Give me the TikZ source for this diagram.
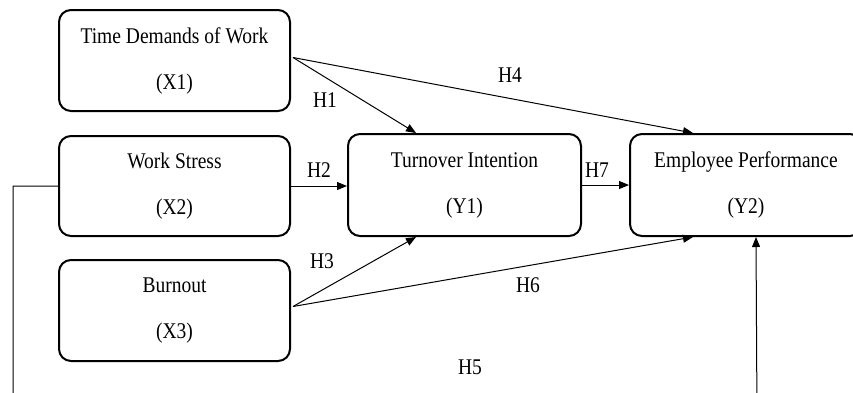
\documentclass[tikz,border=0pt]{standalone}
\usepackage{fontspec}
\usepackage{graphicx}
\setmainfont{Liberation Serif}
\usetikzlibrary{arrows.meta,calc}
% text set slightly taller than wide
\newcommand{\tallt}[1]{\scalebox{1}[1.15]{#1}}
\tikzset{
  varbox/.style={draw, line width=2pt, rounded corners=12pt, align=center,
    font=\fontsize{19.5}{46}\selectfont, inner sep=0pt},
  link/.style={line width=1pt, -{Triangle[length=10pt,width=8pt]}},
  hyp/.style={font=\fontsize{19.5}{23}\selectfont, inner sep=0pt}
}
\begin{document}
\begin{tikzpicture}[x=1pt,y=-1pt]
\useasboundingbox (0,0) rectangle (853,392);
\clip (0,0) rectangle (853,392);
\fill[white] (0,0) rectangle (853,392);

% constructs
\node[varbox, minimum width=231pt, minimum height=101pt] (X1) at (174.5,60.5) {\tallt{Time Demands of Work}\\\tallt{(X1)}};
\node[varbox, minimum width=231pt, minimum height=100pt] (X2) at (174.5,186) {\tallt{Work Stress}\\\tallt{(X2)}};
\node[varbox, minimum width=231pt, minimum height=101pt] (X3) at (174.5,310.5) {\tallt{Burnout}\\\tallt{(X3)}};
\node[varbox, minimum width=233pt, minimum height=102pt] (Y1) at (464.5,185) {\tallt{Turnover Intention}\\\tallt{(Y1)}};
\node[varbox, minimum width=232pt, minimum height=102pt] (Y2) at (746,185) {\tallt{Employee Performance}\\\tallt{(Y2)}};

% connector end points
\coordinate (x1out) at ($(X1.east)+(2,-3)$);
\coordinate (x3out) at ($(X3.east)+(2,-4)$);
\coordinate (y1top) at ($(Y1.north west)+(69,0)$);
\coordinate (y1bot) at ($(Y1.south west)+(69,0)$);
\coordinate (y2top) at ($(Y2.north west)+(64,0)$);
\coordinate (y2bot) at ($(Y2.south west)+(64,0)$);
\coordinate (y2h5) at ($(Y2.south west)+(127,0)$);
\coordinate (h5l) at (13,420);
\coordinate (h5r) at (757,420);

% hypotheses
\draw[link] (x1out) -- (y1top);
\draw[link] (x1out) -- (y2top);
\draw[link] (X2.east) -- (X2.east -| Y1.west);
\draw[link] (Y1.east) -- (Y1.east -| Y2.west);
\draw[link] (x3out) -- (y1bot);
\draw[link] (x3out) -- (y2bot);
\draw[link] (X2.west) -| (h5l) -- (h5r) -- (y2h5);

% hypothesis labels
\node[hyp] (H1) at (325,100) {\tallt{H1}};
\node[hyp] (H4) at (510,75) {\tallt{H4}};
\node[hyp] (H2) at (319,170) {\tallt{H2}};
\node[hyp] (H7) at (597,170) {\tallt{H7}};
\node[hyp] (H3) at (322,261) {\tallt{H3}};
\node[hyp] (H6) at (528,285) {\tallt{H6}};
\node[hyp] (H5) at (470,367) {\tallt{H5}};
\end{tikzpicture}
\end{document}
